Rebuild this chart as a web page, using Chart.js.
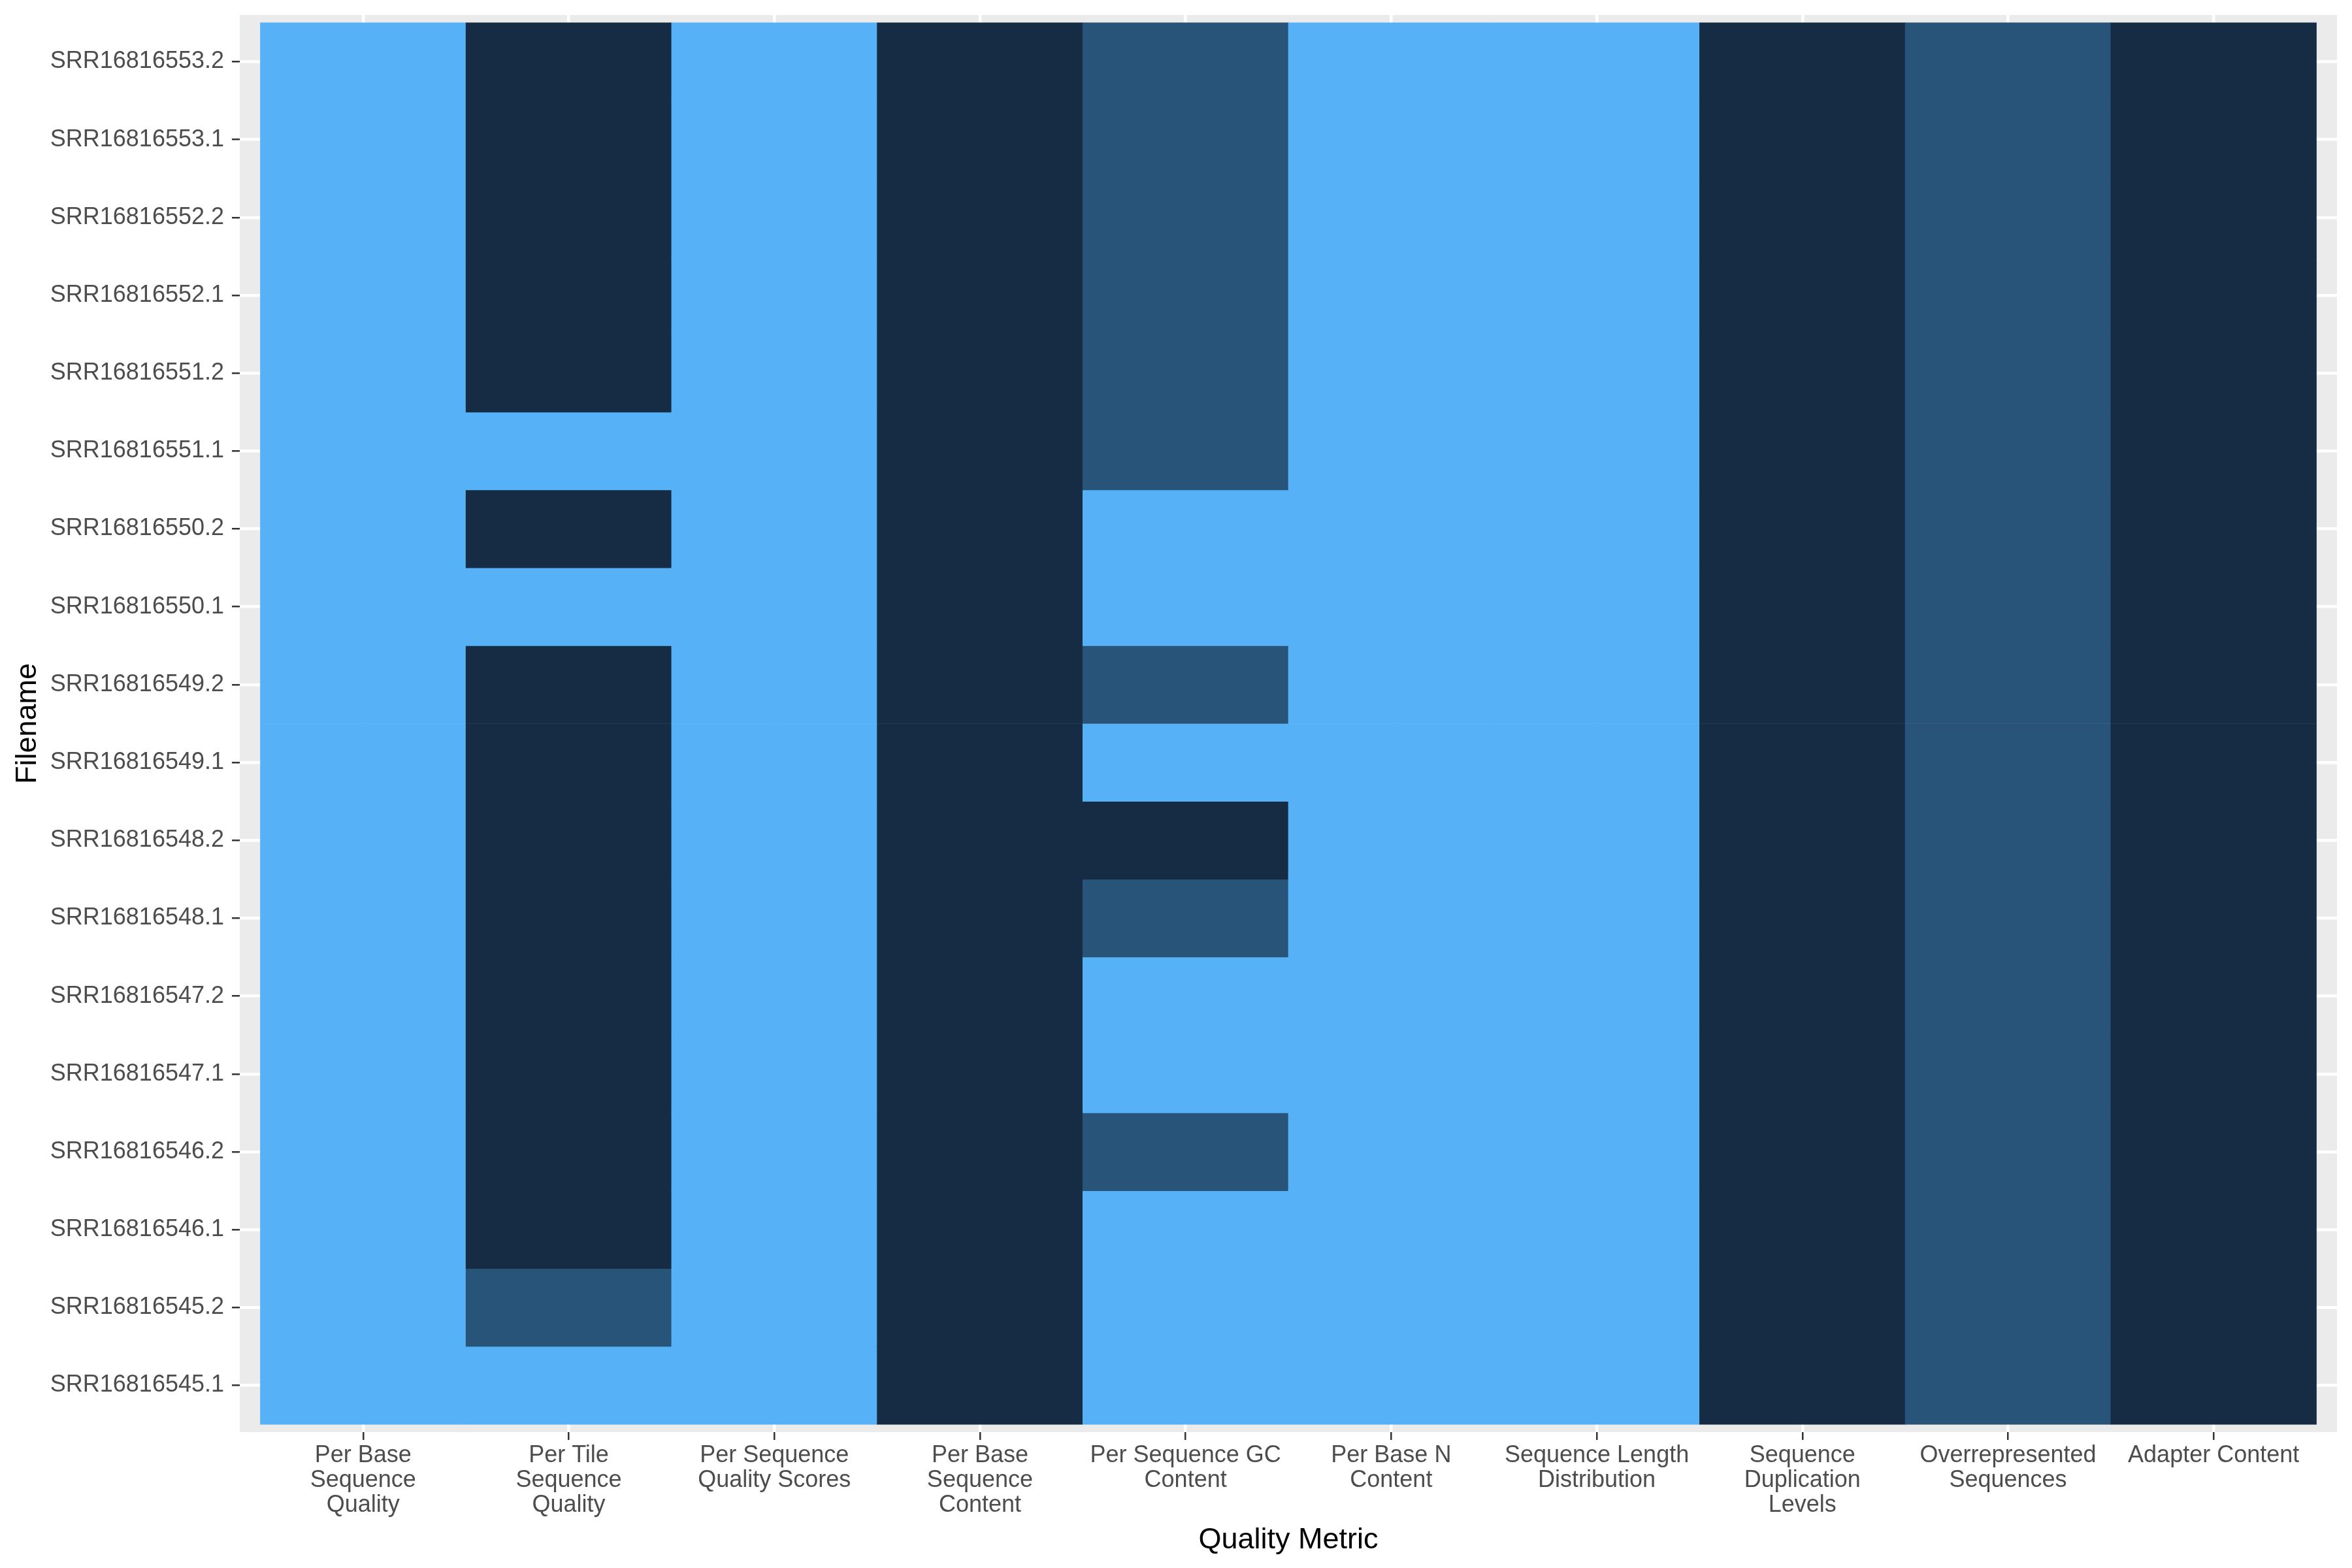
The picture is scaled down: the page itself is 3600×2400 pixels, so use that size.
<!DOCTYPE html>
<html>
<head>
<meta charset="utf-8">
<script src="https://cdn.jsdelivr.net/npm/chart.js@4.4.1/dist/chart.umd.min.js"></script>
<style>
  html, body { margin: 0; padding: 0; background: #ffffff; }
  #wrap { width: 3600px; height: 2400px; }
</style>
</head>
<body>
<div id="wrap"><canvas id="c" width="3600" height="2400"></canvas></div>
<script>
// Files in ggplot level order (bottom to top)
const files = [
  "SRR16816545.1", "SRR16816545.2", "SRR16816546.1", "SRR16816546.2",
  "SRR16816547.1", "SRR16816547.2", "SRR16816548.1", "SRR16816548.2",
  "SRR16816549.1", "SRR16816549.2", "SRR16816550.1", "SRR16816550.2",
  "SRR16816551.1", "SRR16816551.2", "SRR16816552.1", "SRR16816552.2",
  "SRR16816553.1", "SRR16816553.2"
];

const metrics = [
  ["Per Base", "Sequence", "Quality"],
  ["Per Tile", "Sequence", "Quality"],
  ["Per Sequence", "Quality Scores"],
  ["Per Base", "Sequence", "Content"],
  ["Per Sequence GC", "Content"],
  ["Per Base N", "Content"],
  ["Sequence Length", "Distribution"],
  ["Sequence", "Duplication", "Levels"],
  ["Overrepresented", "Sequences"],
  ["Adapter Content"]
];

// Status per metric, one entry per file (same order as files, bottom to top)
// 0 = fail, 1 = warn, 2 = pass
const perBaseSeqQuality   = [2,2,2,2,2,2,2,2,2,2,2,2,2,2,2,2,2,2];
const perTileSeqQuality   = [2,1,0,0,0,0,0,0,0,0,2,0,2,0,0,0,0,0];
const perSeqQualityScores = [2,2,2,2,2,2,2,2,2,2,2,2,2,2,2,2,2,2];
const perBaseSeqContent   = [0,0,0,0,0,0,0,0,0,0,0,0,0,0,0,0,0,0];
const perSeqGCContent     = [2,2,2,1,2,2,1,0,2,1,2,2,1,1,1,1,1,1];
const perBaseNContent     = [2,2,2,2,2,2,2,2,2,2,2,2,2,2,2,2,2,2];
const seqLengthDist       = [2,2,2,2,2,2,2,2,2,2,2,2,2,2,2,2,2,2];
const seqDuplication      = [0,0,0,0,0,0,0,0,0,0,0,0,0,0,0,0,0,0];
const overrepresented     = [1,1,1,1,1,1,1,1,1,1,1,1,1,1,1,1,1,1];
const adapterContent      = [0,0,0,0,0,0,0,0,0,0,0,0,0,0,0,0,0,0];

const statusColumns = [
  perBaseSeqQuality, perTileSeqQuality, perSeqQualityScores, perBaseSeqContent,
  perSeqGCContent, perBaseNContent, seqLengthDist, seqDuplication,
  overrepresented, adapterContent
];

const statusColors = ["#162C45", "#285479", "#56B1F7"];

const cells = [];
const cellColors = [];
statusColumns.forEach((col, ci) => {
  col.forEach((v, fi) => {
    cells.push({ x: [ci + 0.5, ci + 1.5], y: fi + 1 });
    cellColors.push(statusColors[v]);
  });
});

const FONT = "'Liberation Sans', Arial, Helvetica, sans-serif";

const panelBg = {
  id: 'panelBg',
  beforeDraw(chart) {
    const { ctx, chartArea: a } = chart;
    ctx.save();
    ctx.fillStyle = '#EBEBEB';
    ctx.fillRect(a.left, a.top, a.right - a.left, a.bottom - a.top);
    ctx.restore();
  }
};

new Chart(document.getElementById('c'), {
  type: 'bar',
  data: {
    datasets: [{
      data: cells,
      backgroundColor: cellColors,
      borderWidth: 0,
      barPercentage: 1,
      categoryPercentage: 1,
      grouped: false
    }]
  },
  plugins: [panelBg],
  options: {
    indexAxis: 'y',
    responsive: false,
    animation: false,
    devicePixelRatio: 1,
    layout: { padding: { top: 23, right: 23, left: 0, bottom: 0 } },
    plugins: { legend: { display: false }, tooltip: { enabled: false } },
    scales: {
      x: {
        type: 'linear',
        position: 'bottom',
        offset: false,
        min: 0.4,
        max: 10.6,
        afterBuildTicks(scale) {
          scale.ticks = metrics.map((m, i) => ({ value: i + 1 }));
        },
        afterFit(scale) {
          scale.height = 208;
          scale.paddingLeft = 0;
          scale.paddingRight = 0;
        },
        grid: {
          offset: false,
          color: '#FFFFFF',
          lineWidth: 4.5,
          drawTicks: true,
          tickLength: 12,
          tickColor: '#333333',
          tickWidth: 2.5
        },
        border: { display: false },
        ticks: {
          autoSkip: false,
          maxRotation: 0,
          minRotation: 0,
          padding: 5,
          color: '#4D4D4D',
          font: { family: FONT, size: 36, lineHeight: 1.056 },
          callback: (v) => metrics[Math.round(v) - 1]
        },
        title: {
          display: true,
          text: 'Quality Metric',
          color: '#000000',
          font: { family: FONT, size: 45 },
          padding: { top: 0, bottom: 15 }
        }
      },
      y: {
        type: 'linear',
        position: 'left',
        offset: false,
        min: 0.4,
        max: 18.6,
        afterBuildTicks(scale) {
          scale.ticks = files.map((f, i) => ({ value: i + 1 }));
        },
        afterFit(scale) {
          scale.width = 367;
          scale.paddingTop = 0;
          scale.paddingBottom = 0;
        },
        grid: {
          offset: false,
          color: '#FFFFFF',
          lineWidth: 4.5,
          drawTicks: true,
          tickLength: 12,
          tickColor: '#333333',
          tickWidth: 2.5
        },
        border: { display: false },
        ticks: {
          autoSkip: false,
          padding: 12,
          color: '#4D4D4D',
          font: { family: FONT, size: 36 },
          callback: (v) => files[Math.round(v) - 1]
        },
        title: {
          display: true,
          text: 'Filename',
          color: '#000000',
          font: { family: FONT, size: 45 },
          padding: { top: 16, bottom: 0 }
        }
      }
    }
  }
});
</script>
</body>
</html>
